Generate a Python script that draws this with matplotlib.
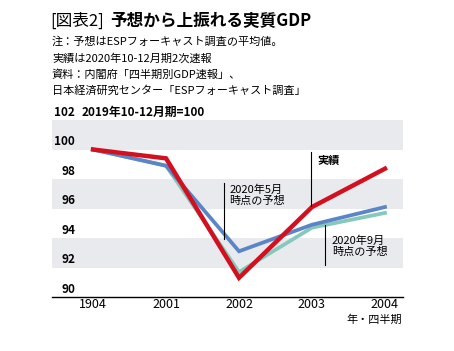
import numpy as np
import matplotlib.pyplot as plt
from matplotlib.transforms import blended_transform_factory

plt.rcParams['font.family'] = ['Noto Sans CJK JP', 'DejaVu Sans']

# data
quarters = ["1904", "2001", "2002", "2003", "2004"]
actual = [100.0, 99.4, 91.3, 96.1, 98.7]        # 実績
forecast_may = [100.0, 98.9, 93.1, 94.9, 96.1]  # 2020年5月時点の予想
forecast_sep = [100.0, 98.9, 91.7, 94.7, 95.7]  # 2020年9月時点の予想
yticks = [90, 92, 94, 96, 98, 100, 102]
bands = [(92, 94), (96, 98), (100, 102)]

W, H = 454, 351
fig = plt.figure(figsize=(W / 100, H / 100), dpi=100)
ax = fig.add_axes([52 / W, 1 - 297 / H, 351 / W, 177 / H])

x = np.arange(len(quarters))
for lo, hi in bands:
    ax.axhspan(lo, hi, color="#e8eaed", lw=0, zorder=0)

ax.plot(x, forecast_sep, color="#86c8bb", lw=2.7, zorder=2, solid_joinstyle="miter")
ax.plot(x, forecast_may, color="#5b85c6", lw=2.7, zorder=3, solid_joinstyle="miter")
ax.plot(x, actual, color="#d2101f", lw=3.2, zorder=4, solid_joinstyle="miter")

ax.set_xlim(-0.562, 4.247)
ax.set_ylim(90, 102)
for s in ["top", "left", "right"]:
    ax.spines[s].set_visible(False)
ax.spines["bottom"].set_linewidth(1.0)
ax.set_yticks([])
ax.set_xticks(x)
ax.set_xticklabels(quarters, fontsize=9)
ax.tick_params(axis="x", length=0, pad=1)

# y labels sit inside the plot, above each line
tr = blended_transform_factory(ax.transAxes, ax.transData)
for v in yticks:
    ax.text(23 / 351, v + 0.1, str(v), transform=tr, ha="right", va="bottom",
            fontsize=8.5, fontweight="bold")
ax.text(30 / 351, 102.1, "2019年10-12月期=100", transform=tr, ha="left",
        va="bottom", fontsize=8.5, fontweight="bold")

# annotations
ax.plot([1.8, 1.8], [93.9, 97.7], color="black", lw=0.8, zorder=5)
ax.text(1.87, 97.6, "2020年5月\n時点の予想", fontsize=8, va="top", ha="left",
        linespacing=1.1)
ax.plot([2.99, 2.99], [96.2, 99.8], color="black", lw=0.8, zorder=5)
ax.text(3.08, 99.7, "実績", fontsize=8, va="top", ha="left", fontweight="bold")
ax.plot([3.18, 3.18], [92.2, 94.9], color="black", lw=0.8, zorder=5)
ax.text(3.27, 94.2, "2020年9月\n時点の予想", fontsize=8, va="top", ha="left",
        linespacing=1.1)

fig.text(402 / W, 1 - 320 / H, "年・四半期", ha="right", va="center", fontsize=8)

# title and notes
fig.text(50 / W, 1 - 21 / H, "[図表2]", ha="left", va="center", fontsize=12)
fig.text(110 / W, 1 - 21 / H, "予想から上振れる実質GDP", ha="left", va="center",
         fontsize=12, fontweight="bold")
notes = ["注：予想はESPフォーキャスト調査の平均値。",
         "実績は2020年10-12月期2次速報",
         "資料：内閣府「四半期別GDP速報」、",
         "日本経済研究センター「ESPフォーキャスト調査」"]
for i, line in enumerate(notes):
    fig.text(52 / W, 1 - (42 + 16.2 * i) / H, line, ha="left", va="center",
             fontsize=8)

fig.savefig("out.png", dpi=100)
